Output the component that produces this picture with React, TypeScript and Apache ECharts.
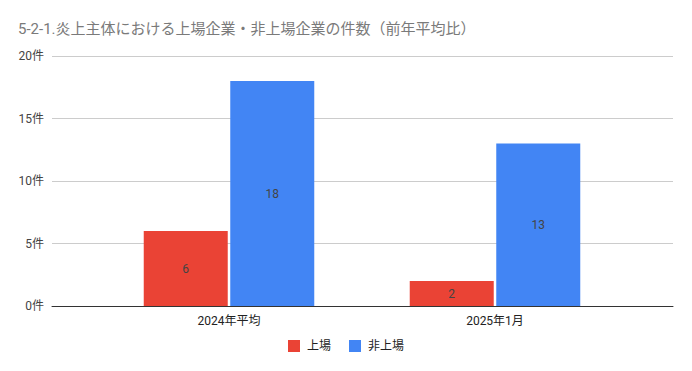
import React, { useEffect, useRef } from "react";
import * as echarts from "echarts";

const titleText = "5-2-1.炎上主体における上場企業・非上場企業の件数（前年平均比）";
const categories = ["2024年平均", "2025年1月"];
const seriesNames = ["上場", "非上場"];
const listedValues = [6, 2];
const unlistedValues = [18, 13];
const colors = ["#EA4335", "#4285F4"];

const FONT = "Roboto, 'Noto Sans CJK JP', sans-serif";

export default function App() {
  const ref = useRef<HTMLDivElement>(null);
  useEffect(() => {
    if (!ref.current) return;
    const chart = echarts.init(ref.current, undefined, { renderer: "svg" });
    const labelCfg = {
      show: true,
      position: "inside",
      color: "#444444",
      fontSize: 12,
      fontFamily: FONT,
    };
    chart.setOption({
      animation: false,
      textStyle: { fontFamily: FONT },
      title: {
        text: titleText,
        left: 18,
        top: 21,
        padding: 0,
        textStyle: { color: "#7a7a7a", fontSize: 15, fontWeight: "normal", fontFamily: FONT },
      },
      legend: {
        data: seriesNames,
        bottom: 14,
        left: "center",
        itemWidth: 12,
        itemHeight: 12,
        itemGap: 18,
        icon: "rect",
        textStyle: { color: "#222222", fontSize: 12, fontFamily: FONT, padding: [0, 0, 0, 2] },
      },
      grid: [
        { left: 52, right: 19, top: 56, bottom: 65, containLabel: false },
        { left: 96, right: 64, top: 56, bottom: 65, containLabel: false },
      ],
      xAxis: [
        {
          type: "category",
          gridIndex: 0,
          data: categories,
          axisLabel: { show: false },
          axisTick: { show: false },
          axisLine: { show: true, lineStyle: { color: "#333333", width: 1 } },
          z: 5,
        },
        {
          type: "category",
          gridIndex: 1,
          data: categories,
          axisLine: { show: false },
          axisTick: { show: false },
          axisLabel: { color: "#222222", fontSize: 12, margin: 9, fontFamily: FONT },
        },
      ],
      yAxis: [
        {
          type: "value",
          gridIndex: 0,
          min: 0,
          max: 20,
          interval: 5,
          axisLine: { show: false },
          axisTick: { show: false },
          axisLabel: { formatter: "{value}件", color: "#444444", fontSize: 12, margin: 8, fontFamily: FONT },
          splitLine: { lineStyle: { color: "#cccccc", width: 1 } },
        },
        {
          type: "value",
          gridIndex: 1,
          min: 0,
          max: 20,
          interval: 5,
          show: false,
          splitLine: { show: false },
        },
      ],
      series: [
        {
          name: seriesNames[0],
          type: "bar",
          xAxisIndex: 1,
          yAxisIndex: 1,
          data: listedValues,
          itemStyle: { color: colors[0] },
          barWidth: 84,
          barGap: "3%",
          label: labelCfg,
        },
        {
          name: seriesNames[1],
          type: "bar",
          xAxisIndex: 1,
          yAxisIndex: 1,
          data: unlistedValues,
          itemStyle: { color: colors[1] },
          barWidth: 84,
          barGap: "3%",
          label: labelCfg,
        },
      ],
    });
    return () => chart.dispose();
  }, []);
  return <div ref={ref} style={{ width: 692, height: 371, position: "absolute", left: 0, top: 0 }} />;
}
